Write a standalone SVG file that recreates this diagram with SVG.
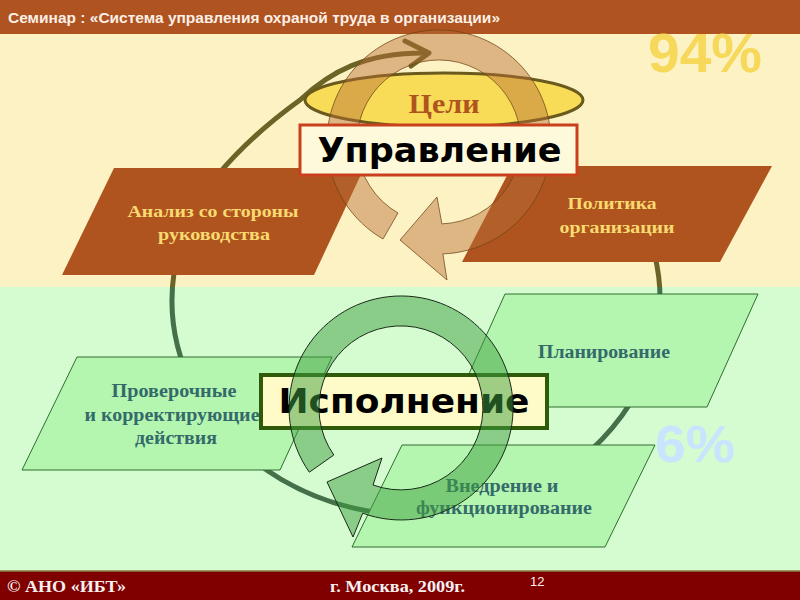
<svg xmlns="http://www.w3.org/2000/svg" width="800" height="600" viewBox="0 0 800 600">
<style>
.hdr{font-family:"Liberation Sans",Arial,sans-serif;font-weight:bold;font-size:15px;fill:#FCEFE6}
.foot{font-family:"Liberation Serif","Times New Roman",serif;font-weight:bold;font-size:16px;fill:#F4F0F0}
.pbrown{fill:#B0541F}
.tbrown{font-family:"Liberation Serif","Times New Roman",serif;font-weight:bold;font-size:17px;fill:#F8DA70;text-anchor:middle}
.pgreen{fill:#B4F6B0;stroke:#2F6F2F;stroke-width:1}
.tgreen{font-family:"Liberation Serif","Times New Roman",serif;font-weight:bold;font-size:18px;fill:#356A6A;text-anchor:middle}
.big{font-family:"DejaVu Sans",Verdana,sans-serif;font-weight:bold;font-size:34px;fill:#000;text-anchor:middle}
.pct{font-family:"Liberation Sans",Arial,sans-serif;font-weight:bold}
</style>
<defs>
<linearGradient id="lineCol" gradientUnits="userSpaceOnUse" x1="0" y1="0" x2="0" y2="600">
<stop offset="0" stop-color="#6C6426"/>
<stop offset="0.478" stop-color="#6C6426"/>
<stop offset="0.478" stop-color="#44704A"/>
<stop offset="1" stop-color="#44704A"/>
</linearGradient>
</defs>
<g id="background">
<rect x="0" y="0" width="800" height="287" fill="#FDF2C4"/>
<rect x="0" y="287" width="800" height="285" fill="#D5FBD0"/>
<rect x="0" y="0" width="800" height="34" fill="#AF5320"/>
<rect x="0" y="571" width="800" height="29" fill="#800000"/>
<line x1="0" y1="571" x2="800" y2="571" stroke="#8A7A40" stroke-width="1.5"/>
<text class="hdr" x="8" y="23" textLength="492" lengthAdjust="spacingAndGlyphs">Семинар : «Система управления охраной труда в организации»</text>
<text class="pct" x="648" y="72" font-size="56" fill="#F6D85A" textLength="114" lengthAdjust="spacingAndGlyphs">94%</text>
<text class="pct" x="655" y="462" font-size="52" fill="#C8E4FF" textLength="80" lengthAdjust="spacingAndGlyphs">6%</text>
<text class="foot" x="7" y="592" textLength="119" lengthAdjust="spacingAndGlyphs">© АНО «ИБТ»</text>
<text class="foot" x="330" y="592" textLength="135" lengthAdjust="spacingAndGlyphs">г. Москва,  2009г.</text>
<text x="530" y="586" font-family="Liberation Sans,Arial,sans-serif" font-size="13" fill="#F4F0F0">12</text>
</g>
<g id="connectors" fill="none" stroke="url(#lineCol)" stroke-width="5" stroke-linecap="round" stroke-linejoin="round">
<path d="M 640.6 216 A 244 215 0 1 1 216 177 C 245 142 275 118 300 100 C 330 72 365 52 428 53"/>
<path d="M 405 41 L 429 53 L 411 66"/>
</g>
<g id="analiz">
<polygon class="pbrown" points="114,168 364,168 314,275 62,275"/>
<text class="tbrown" x="213" y="217" textLength="171" lengthAdjust="spacingAndGlyphs">Анализ со стороны</text>
<text class="tbrown" x="214" y="240" textLength="112" lengthAdjust="spacingAndGlyphs">руководства</text>
</g>
<g id="politika">
<polygon class="pbrown" points="512,166 772,166 720,262 462,262"/>
<text class="tbrown" x="612" y="209" textLength="89" lengthAdjust="spacingAndGlyphs">Политика</text>
<text class="tbrown" x="617" y="233" textLength="115" lengthAdjust="spacingAndGlyphs">организации</text>
</g>
<g id="proverochnye">
<polygon class="pgreen" points="77,357 332,357 280,470 22,470"/>
<text class="tgreen" x="174" y="397" textLength="125" lengthAdjust="spacingAndGlyphs">Проверочные</text>
<text class="tgreen" x="172" y="421" textLength="175" lengthAdjust="spacingAndGlyphs">и корректирующие</text>
<text class="tgreen" x="176" y="444" textLength="82" lengthAdjust="spacingAndGlyphs">действия</text>
</g>
<g id="planirovanie">
<polygon class="pgreen" points="505,294 758,294 707,407 454,407"/>
<text class="tgreen" x="604" y="358" textLength="132" lengthAdjust="spacingAndGlyphs">Планирование</text>
</g>
<g id="vnedrenie">
<polygon class="pgreen" points="402,445 655,445 605,547 352,547"/>
<text class="tgreen" x="502" y="492" textLength="113" lengthAdjust="spacingAndGlyphs">Внедрение и</text>
<text class="tgreen" x="504" y="514" textLength="176" lengthAdjust="spacingAndGlyphs">функционирование</text>
</g>
<g id="celi">
<ellipse cx="444" cy="100" rx="139" ry="27" fill="#F8DC58" stroke="#6B5A1E" stroke-width="3"/>
<text x="444" y="113" text-anchor="middle" font-family="Liberation Serif,Times New Roman,serif" font-weight="bold" font-size="28" fill="#B0541F" textLength="71" lengthAdjust="spacingAndGlyphs">Цели</text>
</g>
<g id="ring-upravlenie">
<path d="M 383 239 A 112 112 0 1 1 442.9 253.9 L 447 280 L 400 240 L 437 197 L 441.9 223.9 A 82 82 0 1 0 398 213 Z" fill="#B66D36" fill-opacity="0.45" stroke="#6E4416" stroke-opacity="0.75" stroke-width="1"/>
</g>
<g id="upravlenie">
<rect x="300" y="125" width="277" height="50" fill="#FFF9DC" stroke="#C8401C" stroke-width="3"/>
<text class="big" x="439.5" y="162" textLength="244" lengthAdjust="spacingAndGlyphs">Управление</text>
</g>
<g id="ispolnenie">
<rect x="261" y="375" width="286" height="53" fill="#FFFBC8" stroke="#2E5A0A" stroke-width="4"/>
<text class="big" x="404" y="413" textLength="251" lengthAdjust="spacingAndGlyphs">Исполнение</text>
</g>
<g id="ring-ispolnenie">
<path d="M 309.3 472.2 A 112 112 0 1 1 362.7 513.2 L 353 537 L 327 482 L 382 458 L 373 485 A 82 82 0 1 0 333.8 455 Z" fill="#3FA03F" fill-opacity="0.5" stroke="#1A2A1A" stroke-width="1"/>
</g>
</svg>
